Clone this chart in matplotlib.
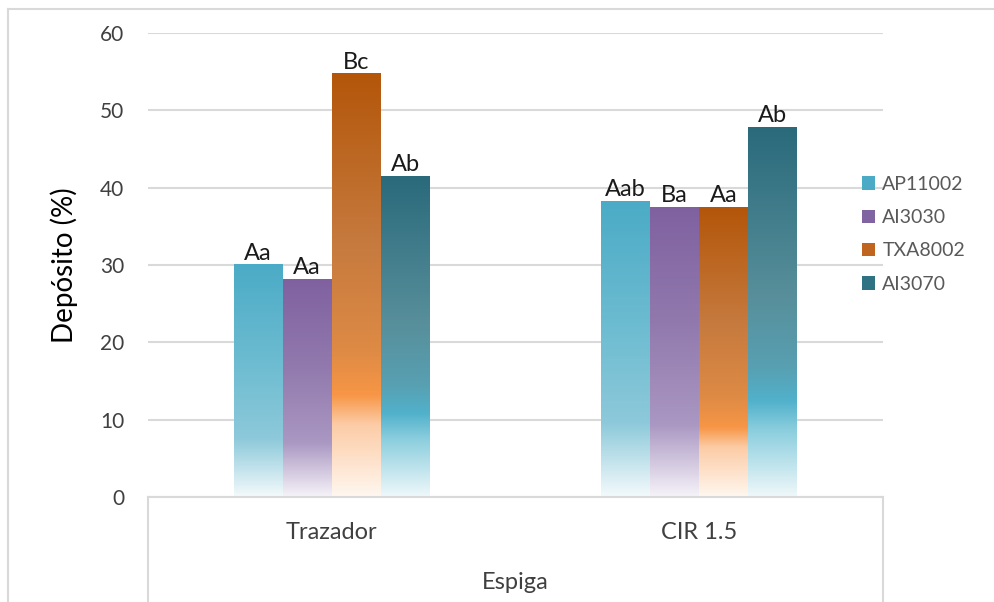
import matplotlib.pyplot as plt
import numpy as np
from matplotlib.colors import to_rgb
from matplotlib.lines import Line2D
from matplotlib.patches import Patch

plt.rcParams['font.family'] = ['Lato', 'DejaVu Sans']

# deposit data (%) per nozzle and target
categories = ['Trazador', 'CIR 1.5']
series = ['AP11002', 'AI3030', 'TXA8002', 'AI3070']
values = {
    'AP11002': [30.0, 38.2],
    'AI3030': [28.1, 37.4],
    'TXA8002': [54.7, 37.4],
    'AI3070': [41.4, 47.8],
}
letters = {
    'AP11002': ['Aa', 'Aab'],
    'AI3030': ['Aa', 'Ba'],
    'TXA8002': ['Bc', 'Aa'],
    'AI3070': ['Ab', 'Ab'],
}

# gradient stops (fraction of bar height from the bottom, colour)
gradients = {
    'AP11002': [(0.0, '#f4fafc'), (0.25, '#8dc9da'), (0.6, '#6bbbd0'), (1.0, '#4babc6')],
    'AI3030': [(0.0, '#f6f3f9'), (0.25, '#aa97c2'), (0.6, '#9179ad'), (1.0, '#7f61a0')],
    'TXA8002': [(0.0, '#fff7f0'), (0.17, '#fcccA6'), (0.24, '#f79646'),
                (0.35, '#dd8a45'), (0.6, '#c67a3e'), (1.0, '#b3560a')],
    'AI3070': [(0.0, '#eff8fa'), (0.18, '#8bcede'), (0.26, '#51b1cb'),
               (0.35, '#58a0b2'), (0.55, '#578e9a'), (1.0, '#2a6a7b')],
}
legend_colors = {'AP11002': '#4babc6', 'AI3030': '#8064a2',
                 'TXA8002': '#c0651f', 'AI3070': '#2e7283'}


def gradient_column(stops, n=300):
    f = np.linspace(0, 1, n)
    pos = [s[0] for s in stops]
    cols = np.array([to_rgb(s[1]) for s in stops])
    img = np.stack([np.interp(f, pos, cols[:, k]) for k in range(3)], axis=-1)
    return img[:, None, :]


grid_c = '#d9d9d9'
fig = plt.figure(figsize=(9.95, 6.02), dpi=100)
ax = fig.add_axes([0.1487, 0.1744, 0.7387, 0.7708])

x = np.arange(len(categories))
width = 0.1333
for i, name in enumerate(series):
    pos = x + (i - 1.5) * width
    bars = ax.bar(pos, values[name], width, color='none', zorder=3)
    img = gradient_column(gradients[name])
    for rect in bars:
        x0, w, h = rect.get_x(), rect.get_width(), rect.get_height()
        ax.imshow(img, extent=[x0, x0 + w, 0, h], origin='lower',
                  aspect='auto', interpolation='bilinear', zorder=2)
    ax.bar_label(bars, labels=letters[name], padding=1, fontsize=17,
                 color='#1a1a1a')

ax.set_xlim(-0.5, 1.5)
ax.set_ylim(0, 60)
ax.set_yticks(range(0, 61, 10))
ax.yaxis.grid(True, color=grid_c, linewidth=1.5)
ax.set_axisbelow(True)
for s in ['top', 'right', 'left']:
    ax.spines[s].set_visible(False)
ax.spines['bottom'].set_color(grid_c)
ax.spines['bottom'].set_linewidth(1.5)
ax.tick_params(axis='both', length=0, labelcolor='#404040')
ax.tick_params(axis='y', pad=17, labelsize=15)
ax.set_xticks(x)
ax.set_xticklabels(categories)
ax.tick_params(axis='x', pad=18, labelsize=17)
ax.set_xlabel('Espiga', fontsize=17, color='#404040', labelpad=21)
ax.set_ylabel('Depósito (%)', fontsize=20, color='black', labelpad=16)

# category box below the axis
for xa in (0, 1):
    ax.add_line(Line2D([xa, xa], [0, -0.3], transform=ax.transAxes,
                       color=grid_c, linewidth=1.5, clip_on=False))

# chart frame
fig.add_artist(Line2D([0.008, 1.0], [0.985, 0.985], color=grid_c, linewidth=1.5))
fig.add_artist(Line2D([0.008, 0.008], [0.0, 0.985], color=grid_c, linewidth=1.5))

handles = [Patch(facecolor=legend_colors[n], edgecolor='none') for n in series]
fig.legend(handles, series, loc='upper left', bbox_to_anchor=(0.866, 0.708),
           frameon=False, fontsize=14, labelcolor='#595959',
           handlelength=0.7, handleheight=0.7, handletextpad=0.36,
           labelspacing=0.84, borderpad=0, borderaxespad=0)

fig.savefig('out.png', dpi=100)
